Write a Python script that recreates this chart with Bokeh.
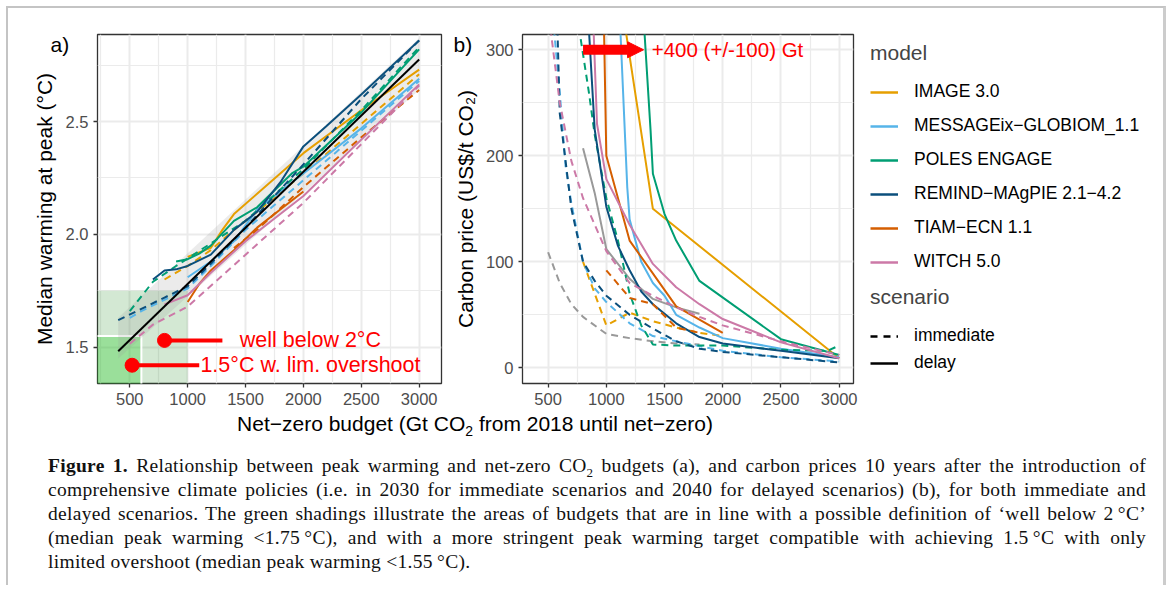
from bokeh.plotting import figure
from bokeh.layouts import row, column
from bokeh.models import (Range1d, FixedTicker, NumeralTickFormatter, Arrow, Title,
                          NormalHead, Legend, LegendItem, Div)
from bokeh.embed import file_html
from bokeh.resources import INLINE
from bokeh.core.properties import value

FONT = "Liberation Sans"
NAN = float("nan")

# ---------------- data ----------------
models = ["IMAGE 3.0", "MESSAGEix\u2212GLOBIOM_1.1", "POLES ENGAGE",
          "REMIND\u2212MAgPIE 2.1\u22124.2", "TIAM\u2212ECN 1.1", "WITCH 5.0"]
model_colors = ["#E69F00", "#56B4E9", "#009E73", "#0B4F7C", "#D55E00", "#CC79A7"]

# Panel a: peak warming vs net-zero budget
a_delay_x = {
    "IMAGE 3.0": [1000, 1100, 1200, 1300, 1400, 1600, 1800, 2000, 2500, 3000],
    "MESSAGEix\u2212GLOBIOM_1.1": [1000, 1200, 1400, 1600, 2000, 2500, 3000],
    "POLES ENGAGE": [900, 1000, 1100, 1200, 1400, 1600, 1800, 1900, 2000, 2500, 3000],
    "REMIND\u2212MAgPIE 2.1\u22124.2": [700, 800, 900, 1000, 1200, 1400, 1600, 1800, 2000, 2200, 2500, 3000],
    "TIAM\u2212ECN 1.1": [1000, 1100, 1200, 1400, 1600, 1800, 2000],
    "WITCH 5.0": [800, 1000, 1200, 1500, 2000, 2500, 3000],
}
a_delay_y = {
    "IMAGE 3.0": [1.90, 1.92, 1.94, 2.02, 2.09, 2.18, 2.27, 2.36, 2.55, 2.73],
    "MESSAGEix\u2212GLOBIOM_1.1": [1.81, 1.88, 1.97, 2.11, 2.27, 2.47, 2.69],
    "POLES ENGAGE": [1.88, 1.89, 1.915, 1.95, 2.06, 2.12, 2.22, 2.27, 2.30, 2.54, 2.82],
    "REMIND\u2212MAgPIE 2.1\u22124.2": [1.80, 1.84, 1.845, 1.86, 1.91, 2.02, 2.10, 2.23, 2.39, 2.48, 2.62, 2.86],
    "TIAM\u2212ECN 1.1": [1.70, 1.78, 1.84, 1.93, 2.03, 2.11, 2.19],
    "WITCH 5.0": [1.69, 1.73, 1.83, 1.97, 2.17, 2.42, 2.665],
}
a_imm_x = {
    "IMAGE 3.0": [800, 1000, 1200, 1400, 1600, 2000, 2500, 3000],
    "MESSAGEix\u2212GLOBIOM_1.1": [500, 600, 800, 1000, 1200, 1500, 2000, 2500, 3000],
    "POLES ENGAGE": [500, 700, 900, 1200, 1500, 2000, 2500, 3000],
    "REMIND\u2212MAgPIE 2.1\u22124.2": [400, 600, 800, 1000, 1200, 1500, 2000, 2500, 3000],
    "TIAM\u2212ECN 1.1": [1400, 1600, 2000, 2500, 3000],
    "WITCH 5.0": [500, 700, 1000, 1500, 2000, 2500, 3000],
}
a_imm_y = {
    "IMAGE 3.0": [1.80, 1.86, 1.93, 2.02, 2.10, 2.27, 2.49, 2.71],
    "MESSAGEix\u2212GLOBIOM_1.1": [1.63, 1.66, 1.71, 1.76, 1.86, 2.02, 2.24, 2.46, 2.68],
    "POLES ENGAGE": [1.66, 1.79, 1.86, 1.96, 2.06, 2.29, 2.55, 2.83],
    "REMIND\u2212MAgPIE 2.1\u22124.2": [1.62, 1.67, 1.72, 1.77, 1.87, 2.03, 2.31, 2.60, 2.86],
    "TIAM\u2212ECN 1.1": [1.94, 2.02, 2.21, 2.43, 2.64],
    "WITCH 5.0": [1.515, 1.60, 1.68, 1.91, 2.14, 2.40, 2.66],
}
fit_x = [400, 3000]
fit_y = [1.482, 2.775]
band_x = [400, 3000]
band_lower = [1.45, 2.64]
band_upper = [1.63, 2.87]
wb2_budget_max, wb2_warming_max = 1000, 1.75
lim15_budget_max, lim15_warming_max = 600, 1.55
marker_x = [800, 520]
marker_y = [1.53, 1.42]
marker_line_end = [1300, 1100]
marker_text_x = [1450, 1110]
marker_text = ["well below 2\u00b0C", "1.5\u00b0C w. lim. overshoot"]

# Panel b: carbon price vs net-zero budget
b_delay_x = {
    "IMAGE 3.0": [1150, 1400, 3000],
    "MESSAGEix\u2212GLOBIOM_1.1": [1120, 1180, 1200, 1300, 1400, 1500, 1600, 1800, 2000, 2500, 3000],
    "POLES ENGAGE": [1320, 1380, 1400, 1500, 1600, 1800, 2500, 3000],
    "REMIND\u2212MAgPIE 2.1\u22124.2": [850, 900, 1000, 1100, 1200, 1300, 1400, 1600, 1800, 2000, 2500, 3000],
    "TIAM\u2212ECN 1.1": [980, 1000, 1200, 1600, 2000],
    "WITCH 5.0": [890, 920, 1000, 1200, 1400, 1600, 1800, 2000, 2500, 3000],
}
b_delay_y = {
    "IMAGE 3.0": [330, 150, 9],
    "MESSAGEix\u2212GLOBIOM_1.1": [320, 170, 140, 100, 80, 68, 50, 38, 28, 18, 10],
    "POLES ENGAGE": [330, 224, 183, 145, 120, 82, 27, 12],
    "REMIND\u2212MAgPIE 2.1\u22124.2": [320, 225, 152, 115, 92, 72, 60, 42, 29, 23, 16, 9],
    "TIAM\u2212ECN 1.1": [320, 200, 120, 58, 33],
    "WITCH 5.0": [320, 230, 178, 135, 98, 76, 60, 46, 24, 9],
}
b_imm_x = {
    "IMAGE 3.0": [800, 900, 1000, 1200, 1400, 1600, 1800, 2000],
    "MESSAGEix\u2212GLOBIOM_1.1": [550, 600, 650, 700, 800, 900, 1000, 1200, 1400, 1600, 2000, 2500, 3000],
    "POLES ENGAGE": [780, 850, 900, 1000, 1100, 1200, 1300, 1400, 1600, 2000, 2500, 2900, 3000],
    "REMIND\u2212MAgPIE 2.1\u22124.2": [580, 600, 700, 800, 900, 1000, 1200, 1400, 1600, 1800, 2000, 2500, 3000],
    "TIAM\u2212ECN 1.1": [1000, 1200, 1400, 1600, 1800],
    "WITCH 5.0": [520, 600, 700, 800, 900, 1000, 1200, 1400, 1600, 1800, 2000, 2500, 3000],
}
b_imm_y = {
    "IMAGE 3.0": [100, 70, 40, 52, 44, 38, 33, 30],
    "MESSAGEix\u2212GLOBIOM_1.1": [320, 260, 190, 155, 100, 75, 62, 42, 30, 25, 16, 10, 6],
    "POLES ENGAGE": [310, 260, 220, 160, 120, 70, 40, 22, 21, 21, 17, 16, 21],
    "REMIND\u2212MAgPIE 2.1\u22124.2": [320, 240, 150, 100, 82, 68, 50, 37, 25, 18, 15, 10, 5],
    "TIAM\u2212ECN 1.1": [92, 66, 60, 38, 33],
    "WITCH 5.0": [320, 250, 195, 160, 135, 110, 80, 68, 57, 48, 40, 25, 12],
}
other_color = "#999999"
other_delay_x = [800, 900, 1000, 1200, 1400, 1600, 1800]
other_delay_y = [207, 165, 112, 84, 65, 57, 51]
other_imm_x = [500, 600, 700, 800, 1000, 1200, 1400, 1600, 1800]
other_imm_y = [109, 80, 60, 48, 32, 28, 25, 23, 22]
arrow_x = [800, 1320]
arrow_y = 300
arrow_text = "+400 (+/-100) Gt"
arrow_text_x = 1390

scenarios = ["immediate", "delay"]
scenario_dash = ["7 6", "solid"]

# axes
a_xlim = (221, 3193)
a_ylim = (1.339, 2.886)
a_xticks = [500, 1000, 1500, 2000, 2500, 3000]
a_xminor = [250, 750, 1250, 1750, 2250, 2750]
a_yticks = [1.5, 2.0, 2.5]
a_yminor = [1.75, 2.25, 2.75]
b_xlim = (280, 3123)
b_ylim = (-14.8, 314.4)
b_xticks = [500, 1000, 1500, 2000, 2500, 3000]
b_xminor = [750, 1250, 1750, 2250, 2750]
b_yticks = [0, 100, 200, 300]
b_yminor = [50, 150, 250]

DASH = "7 5"
LW = 2


def style(p, xt, xm, yt, ym):
    p.xaxis.ticker = FixedTicker(ticks=xt, minor_ticks=xm)
    p.yaxis.ticker = FixedTicker(ticks=yt, minor_ticks=ym)
    for g in (p.xgrid, p.ygrid):
        g.grid_line_color = "#ebebeb"
        g.grid_line_width = 2
        g.minor_grid_line_color = "#ebebeb"
        g.minor_grid_line_width = 1.2
    for ax in (p.xaxis, p.yaxis):
        ax.axis_line_color = None
        ax.major_tick_line_color = "#333333"
        ax.major_tick_line_width = 1.3
        ax.major_tick_out = 4
        ax.major_tick_in = 0
        ax.minor_tick_line_color = None
        ax.major_label_text_color = "#4d4d4d"
        ax.major_label_text_font = FONT
        ax.major_label_text_font_size = "16.5px"
        ax.major_label_standoff = 5
        ax.axis_label_text_font = FONT
        ax.axis_label_text_font_size = "21px"
        ax.axis_label_text_font_style = "normal"
        ax.axis_label_text_color = "black"
    p.outline_line_color = "#333333"
    p.outline_line_width = 1.3
    p.background_fill_color = "white"
    p.border_fill_color = "white"


def tag(text, offset):
    return Title(text=text, align="left", offset=offset, standoff=-42,
                 text_font=FONT, text_font_size="21px", text_font_style="normal",
                 text_color="black")


# ---------------- panel a ----------------
fa = figure(width=442, height=405, x_range=Range1d(*a_xlim), y_range=Range1d(*a_ylim),
            toolbar_location=None, output_backend="svg",
            min_border_left=89, min_border_right=9, min_border_top=26, min_border_bottom=30)
fa.title = tag("a)", -47)
style(fa, a_xticks, a_xminor, a_yticks, a_yminor)
fa.yaxis.formatter = NumeralTickFormatter(format="0.0")
fa.yaxis.axis_label = "Median warming at peak (\u00b0C)"
fa.yaxis.axis_label_standoff = 7

# green shadings (extend to -Inf)
fa.quad(left=a_xlim[0] - 500, right=wb2_budget_max, bottom=a_ylim[0] - 1, top=wb2_warming_max,
        fill_color="#228B22", fill_alpha=0.2, line_color=None)
fa.quad(left=a_xlim[0] - 500, right=lim15_budget_max, bottom=a_ylim[0] - 1, top=lim15_warming_max,
        fill_color="#32CD32", fill_alpha=0.35, line_color="white", line_width=2)
# uncertainty band
fa.varea(x=band_x, y1=band_lower, y2=band_upper, fill_color="#999999", fill_alpha=0.2)
for m, c in zip(models, model_colors):
    fa.line(a_imm_x[m], a_imm_y[m], line_color=c, line_width=LW, line_dash=DASH)
    fa.line(a_delay_x[m], a_delay_y[m], line_color=c, line_width=LW)
fa.line(fit_x, fit_y, line_color="black", line_width=2)

for mx, my, me, tx, t in zip(marker_x, marker_y, marker_line_end, marker_text_x, marker_text):
    fa.line([mx, me], [my, my], line_color="red", line_width=4)
    fa.scatter([mx], [my], size=14, color="red")
    fa.text([tx], [my], text=[t], text_color="red", text_font=value(FONT),
            text_font_size="21.5px", text_baseline="middle", text_align="left")

# ---------------- panel b ----------------
fb = figure(width=410, height=405, x_range=Range1d(*b_xlim), y_range=Range1d(*b_ylim),
            toolbar_location=None, output_backend="svg",
            min_border_left=72, min_border_right=7, min_border_top=26, min_border_bottom=30)
fb.title = tag("b)", -69)
style(fb, b_xticks, b_xminor, b_yticks, b_yminor)
fb.yaxis.axis_label = "Carbon price (US$/t CO\u2082)"
fb.yaxis.axis_label_standoff = 6

fb.line(other_imm_x, other_imm_y, line_color=other_color, line_width=LW, line_dash=DASH)
fb.line(other_delay_x, other_delay_y, line_color=other_color, line_width=LW)
for m, c in zip(models, model_colors):
    fb.line(b_imm_x[m], b_imm_y[m], line_color=c, line_width=LW, line_dash=DASH)
    fb.line(b_delay_x[m], b_delay_y[m], line_color=c, line_width=LW)

fb.add_layout(Arrow(end=NormalHead(size=16, fill_color="red", line_color="red"),
                    x_start=arrow_x[0], y_start=arrow_y, x_end=arrow_x[1], y_end=arrow_y,
                    line_color="red", line_width=10))
fb.text([arrow_text_x], [arrow_y], text=[arrow_text], text_color="red", text_font=value(FONT),
        text_font_size="20.5px", text_baseline="middle", text_align="left")

# ---------------- legend panel ----------------
fleg = figure(width=303, height=405, x_range=Range1d(0, 1), y_range=Range1d(0, 1),
              toolbar_location=None, output_backend="svg", min_border=0)
fleg.axis.visible = False
fleg.grid.visible = False
fleg.outline_line_color = None

model_items = []
for m, c in zip(models, model_colors):
    r = fleg.line([NAN], [NAN], line_color=c, line_width=2.5)
    model_items.append(LegendItem(label=m, renderers=[r]))
scen_items = []
for s, d in zip(scenarios, scenario_dash):
    r = fleg.line([NAN], [NAN], line_color="black", line_width=2.5, line_dash=d)
    scen_items.append(LegendItem(label=s, renderers=[r]))


def legend(items, title, loc, spacing):
    return Legend(items=items, title=title, location=loc, orientation="vertical",
                  title_text_font=FONT, title_text_font_size="21px", title_text_font_style="normal",
                  title_standoff=16, label_text_font=FONT, label_text_font_size="17.5px",
                  label_text_color="black",
                  glyph_width=28, glyph_height=20, label_height=20, label_standoff=16,
                  spacing=spacing, padding=0, margin=0, border_line_color=None,
                  background_fill_alpha=0)


fleg.add_layout(legend(model_items, "model", (10, 111), 13))
fleg.add_layout(legend(scen_items, "scenario", (10, 10), 6))

# ---------------- texts below ----------------
xlabel = Div(width=934, height=22, margin=0,
             text='<div style="width:934px;text-align:center;font-family:\'Liberation Sans\';'
                  'font-size:21px;line-height:22px;color:black;white-space:nowrap">'
                  'Net\u2212zero budget (Gt CO<sub style="font-size:14px;line-height:0">2</sub> '
                  'from 2018 until net\u2212zero)</div>')

caption_lines = [
    '<b>Figure 1.</b> Relationship between peak warming and net-zero CO<sub style="font-size:13px;line-height:0">2</sub> budgets (a), and carbon prices 10 years after the introduction of',
    'comprehensive climate policies (i.e. in 2030 for immediate scenarios and 2040 for delayed scenarios) (b), for both immediate and',
    'delayed scenarios. The green shadings illustrate the areas of budgets that are in line with a possible definition of \u2018well below 2\u202f\u00b0C\u2019',
    '(median peak warming &lt;1.75\u202f\u00b0C), and with a more stringent peak warming target compatible with achieving 1.5\u202f\u00b0C with only',
    'limited overshoot (median peak warming &lt;1.55\u202f\u00b0C).',
]
html = ('<div style="padding:19px 17px 0 40px;font-family:\'Liberation Serif\';font-size:19.5px;'
        'letter-spacing:0.3px;line-height:24px;color:#111">')
for i, ln in enumerate(caption_lines):
    last = i == len(caption_lines) - 1
    al = "left" if last else "justify"
    html += (f'<div style="width:1098px;text-align:{al};text-align-last:{al};'
             f'white-space:nowrap">{ln}</div>')
html += '</div>'
caption = Div(width=1155, height=150, margin=0, text=html)

layout = column(row(fa, fb, fleg), xlabel, caption, margin=(6, 0, 0, 6),
                styles={"border-top": "2px solid #c4c4c4", "border-left": "2px solid #c4c4c4",
                        "border-right": "3px solid #cccccc"})

open("out.html", "w").write(file_html(layout, INLINE))
